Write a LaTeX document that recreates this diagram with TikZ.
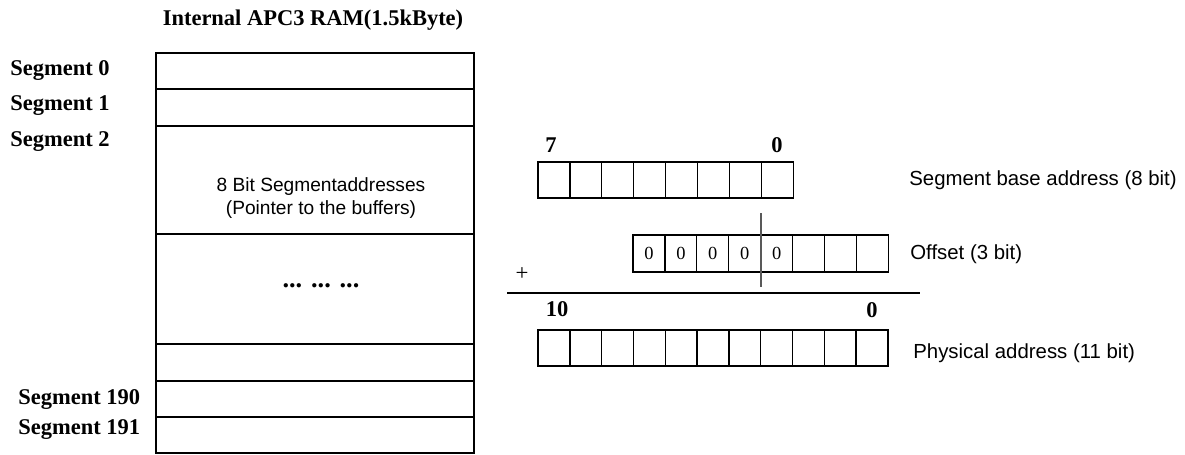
\documentclass[tikz,border=0pt]{standalone}
\usepackage{fontspec}
\setmainfont{Liberation Serif}
\setsansfont{Liberation Sans}
\tikzset{
  cell/.style={draw, line width=0.6pt, minimum width=0.64cm, minimum height=0.72cm, inner sep=0pt, outer sep=0pt},
  seglabel/.style={anchor=west, inner sep=0pt, font=\fontsize{12.8}{14}\selectfont\bfseries},
  bitlabel/.style={inner sep=0pt, font=\fontsize{12.8}{14}\selectfont\bfseries},
  reglabel/.style={anchor=west, inner sep=0pt, font=\sffamily\fontsize{11.6}{13}\selectfont},
}
\begin{document}
\begin{tikzpicture}[x=0.02cm,y=-0.02cm]

\useasboundingbox (0,0) rectangle (1185,454);

% RAM block
\node[bitlabel] (title) at (313,20) {Internal APC3 RAM(1.5kByte)};
\foreach \t/\b in {53/89,89/126,126/234,234/344,344/381,381/417,417/453}
  \draw[line width=0.6pt] (156,\t) rectangle (474,\b);

\node[seglabel] (seg0) at (10,70) {Segment 0};
\node[seglabel] (seg1) at (10,106) {Segment 1};
\node[seglabel] (seg2) at (10,142) {Segment 2};
\node[seglabel] (seg190) at (18,399) {Segment 190};
\node[seglabel] (seg191) at (18,430) {Segment 191};

\node[align=center, inner sep=0pt, font=\sffamily\fontsize{10.9}{12.6}\selectfont] (ptr) at (321,198)
  {8 Bit Segmentaddresses\\(Pointer to the buffers)};
\node[inner sep=0pt, font=\fontsize{15}{16}\selectfont\bfseries] (dots) at (321,286) {... ... ...};

% segment base address
\node[bitlabel] (b7) at (551,145) {7};
\node[bitlabel] (b0) at (777,145) {0};
\foreach \i in {0,...,7}
  \node[cell] (base\i) at (554+31.9*\i,180) {};
\node[reglabel] (baselbl) at (909,180) {Segment base address (8 bit)};

% offset
\foreach \i in {0,...,4}
  \node[cell, minimum height=0.74cm, font=\fontsize{10.5}{12}\selectfont] (off\i) at (649+31.9*\i,253.5) {0};
\foreach \i in {5,...,7}
  \node[cell, minimum height=0.74cm] (off\i) at (649+31.9*\i,253.5) {};
\node[reglabel] (offlbl) at (910,254) {Offset (3 bit)};
\coordinate (cuttop) at (761,213);
\coordinate (cutbot) at (761,287);
\draw[gray!70!black, line width=0.6pt] (cuttop) -- (cutbot);

\node[inner sep=0pt, font=\fontsize{13}{14}\selectfont] (plus) at (522,274) {+};
\coordinate (sumL) at (507,293);
\coordinate (sumR) at (920,293);
\draw[line width=0.7pt] (sumL) -- (sumR);

% physical address
\node[bitlabel] (p10) at (557,309) {10};
\node[bitlabel] (p0) at (872,310) {0};
\foreach \i in {0,...,10}
  \node[cell] (phys\i) at (554+31.8*\i,348) {};
\node[reglabel] (physlbl) at (913,353) {Physical address (11 bit)};

\end{tikzpicture}
\end{document}
